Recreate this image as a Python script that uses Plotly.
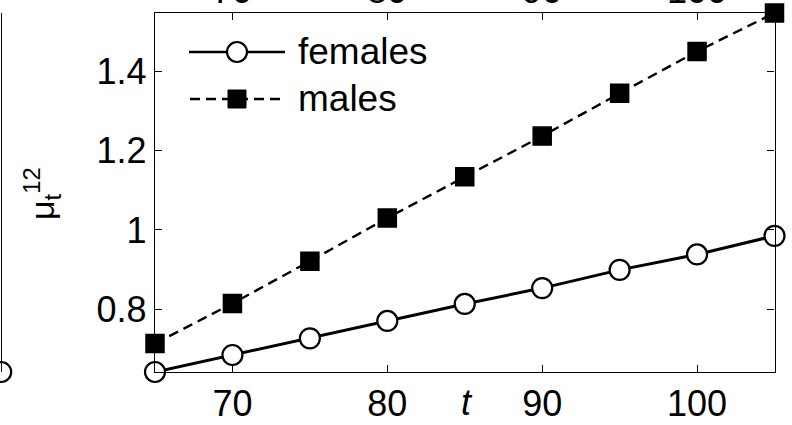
import plotly.graph_objects as go

# Age grid and transition intensities mu_t^12
t = [65, 70, 75, 80, 85, 90, 95, 100, 105]
females = [0.641, 0.684, 0.726, 0.770, 0.813, 0.853, 0.899, 0.938, 0.985]
males = [0.713, 0.814, 0.921, 1.030, 1.134, 1.237, 1.345, 1.451, 1.548]

x_ticks = [70, 80, 90, 100]
x_tick_text = ["70", "80", "90", "100"]
y_ticks = [0.8, 1.0, 1.2, 1.4]
y_tick_text = ["0.8", "1", "1.2", "1.4"]

# last point of the neighbouring panel on the left
left_t = [105]
left_val = [0.641]

W, H = 792, 425
PX0, PX1 = 155, 774.5   # plot area, pixels
PY0, PY1 = 13, 372
FONT = "Liberation Sans, Arial, Helvetica, sans-serif"

def px(x):
    return x / W

def py(y):
    return 1 - y / H

fig = go.Figure()

fig.add_trace(go.Scatter(
    x=t, y=females, mode="lines+markers", name="females",
    line=dict(color="black", width=3),
    marker=dict(symbol="circle", size=20, color="white",
                line=dict(color="black", width=2.2)),
    cliponaxis=False, showlegend=False,
))
fig.add_trace(go.Scatter(
    x=t, y=males, mode="lines+markers", name="males",
    line=dict(color="black", width=2.4, dash="10px,6px"),
    marker=dict(symbol="square", size=18, color="black",
                line=dict(color="black", width=1.5)),
    cliponaxis=False, showlegend=False,
))

# neighbouring panel: only its right frame edge and last marker show
fig.add_trace(go.Scatter(
    x=left_t, y=left_val, mode="markers", xaxis="x2", yaxis="y2",
    marker=dict(symbol="circle", size=20, color="white",
                line=dict(color="black", width=2.2)),
    cliponaxis=False, showlegend=False,
))

axis_common = dict(
    showline=True, linecolor="black", linewidth=1.3, mirror="ticks",
    ticks="inside", ticklen=7, tickwidth=1.2, tickcolor="black",
    showgrid=False, zeroline=False,
    tickfont=dict(family=FONT, size=36, color="black"),
)

fig.update_layout(
    width=W, height=H, autosize=False,
    margin=dict(l=0, r=0, t=0, b=0),
    paper_bgcolor="white", plot_bgcolor="white",
    showlegend=False,
    xaxis=dict(
        domain=[px(PX0), px(PX1)], range=[65, 105],
        tickvals=x_ticks, ticktext=x_tick_text, anchor="y",
        **axis_common,
    ),
    yaxis=dict(
        domain=[py(PY1), py(PY0)], range=[0.641, 1.548],
        tickvals=y_ticks, ticktext=y_tick_text, anchor="x",
        **axis_common,
    ),
    xaxis2=dict(domain=[0, px(1.2)], range=[65, 105], visible=False,
                anchor="y2"),
    yaxis2=dict(domain=[py(PY1), py(PY0)], range=[0.641, 1.548],
                anchor="x2", side="right", showline=True, linecolor="black",
                linewidth=1.3, showticklabels=False, ticks="",
                showgrid=False, zeroline=False),
)

annotations = []

# axis titles
annotations.append(dict(
    text="μ<sub>t</sub><sup>12</sup>", textangle=-90,
    xref="paper", yref="paper", x=px(42), y=py(194),
    xanchor="center", yanchor="middle", showarrow=False,
    font=dict(family=FONT, size=34, color="black"),
))
annotations.append(dict(
    text="<i>t</i>", xref="paper", yref="paper",
    x=px(467), y=py(402), xanchor="center", yanchor="middle",
    showarrow=False, font=dict(family=FONT, size=36, color="black"),
))

# tick labels of the panel above, cut by the frame
for v, s in zip(x_ticks, x_tick_text):
    annotations.append(dict(
        text=s, xref="x", yref="paper", x=v, y=1,
        xanchor="center", yanchor="bottom", yshift=-12.6,
        showarrow=False, font=dict(family=FONT, size=36, color="black"),
    ))

# legend
legend_rows = [("females", 52), ("males", 99)]
for name, yy in legend_rows:
    annotations.append(dict(
        text=name, xref="paper", yref="paper", x=px(296), y=py(yy),
        xanchor="left", yanchor="middle", showarrow=False,
        font=dict(family=FONT, size=37, color="black"),
    ))

shapes = [
    dict(type="line", xref="paper", yref="paper",
         x0=px(189), x1=px(285), y0=py(52), y1=py(52),
         line=dict(color="black", width=2.5)),
    dict(type="circle", xref="paper", yref="paper",
         x0=px(227), x1=px(247), y0=py(62), y1=py(42),
         fillcolor="white", line=dict(color="black", width=2.2)),
    dict(type="line", xref="paper", yref="paper",
         x0=px(190), x1=px(285), y0=py(99), y1=py(99),
         line=dict(color="black", width=2.4, dash="10px,6px")),
    dict(type="rect", xref="paper", yref="paper",
         x0=px(228), x1=px(246), y0=py(108), y1=py(90),
         fillcolor="black", line=dict(color="black", width=1)),
]

fig.update_layout(annotations=annotations, shapes=shapes)

fig.write_html("out.html")
